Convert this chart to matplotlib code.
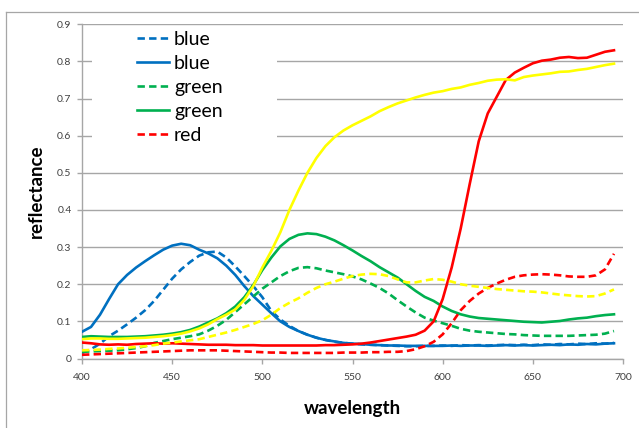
import matplotlib
matplotlib.use("Agg")
import matplotlib.pyplot as plt
from matplotlib.patches import Rectangle
from matplotlib.lines import Line2D

wavelength = list(range(400, 700, 5))

blue_dashed = [0.015, 0.025, 0.040, 0.060, 0.075, 0.092, 0.110, 0.130, 0.155, 0.185,
               0.215, 0.240, 0.260, 0.277, 0.286, 0.288, 0.272, 0.248, 0.222, 0.195,
               0.165, 0.128, 0.105, 0.088, 0.074, 0.064, 0.056, 0.050, 0.045, 0.042,
               0.040, 0.038, 0.037, 0.036, 0.035, 0.034, 0.033, 0.033, 0.034, 0.034,
               0.035, 0.034, 0.036, 0.035, 0.036, 0.035, 0.036, 0.037, 0.036, 0.037,
               0.036, 0.038, 0.037, 0.039, 0.038, 0.040, 0.039, 0.041, 0.040, 0.042]
blue_solid = [0.072, 0.085, 0.118, 0.160, 0.200, 0.225, 0.245, 0.262, 0.278, 0.293,
              0.304, 0.309, 0.305, 0.293, 0.283, 0.270, 0.250, 0.225, 0.195, 0.168,
              0.145, 0.122, 0.100, 0.085, 0.074, 0.064, 0.056, 0.050, 0.046, 0.042,
              0.040, 0.039, 0.037, 0.036, 0.035, 0.035, 0.034, 0.034, 0.034, 0.034,
              0.034, 0.035, 0.034, 0.035, 0.035, 0.034, 0.035, 0.036, 0.035, 0.036,
              0.035, 0.036, 0.037, 0.036, 0.038, 0.037, 0.039, 0.038, 0.040, 0.041]
green_dashed = [0.018, 0.019, 0.020, 0.021, 0.022, 0.025, 0.028, 0.033, 0.042, 0.047,
                0.052, 0.056, 0.060, 0.065, 0.075, 0.088, 0.104, 0.125, 0.146, 0.167,
                0.188, 0.205, 0.222, 0.235, 0.244, 0.246, 0.243, 0.237, 0.232, 0.227,
                0.221, 0.213, 0.202, 0.190, 0.175, 0.157, 0.140, 0.124, 0.110, 0.102,
                0.095, 0.088, 0.080, 0.075, 0.072, 0.070, 0.068, 0.066, 0.065, 0.063,
                0.062, 0.061, 0.061, 0.061, 0.061, 0.062, 0.063, 0.064, 0.067, 0.074]
green_solid = [0.058, 0.060, 0.059, 0.058, 0.058, 0.058, 0.059, 0.060, 0.062, 0.064,
               0.067, 0.071, 0.077, 0.086, 0.097, 0.108, 0.122, 0.140, 0.165, 0.198,
               0.238, 0.272, 0.302, 0.322, 0.333, 0.337, 0.335, 0.328, 0.318, 0.305,
               0.291, 0.276, 0.262, 0.246, 0.232, 0.218, 0.200, 0.182, 0.166, 0.155,
               0.140, 0.128, 0.119, 0.113, 0.109, 0.107, 0.105, 0.103, 0.101, 0.099,
               0.098, 0.097, 0.099, 0.101, 0.105, 0.108, 0.110, 0.114, 0.117, 0.119]
red_dashed = [0.010, 0.011, 0.012, 0.013, 0.014, 0.015, 0.016, 0.017, 0.018, 0.019,
              0.020, 0.021, 0.022, 0.022, 0.022, 0.022, 0.021, 0.020, 0.019, 0.018,
              0.017, 0.016, 0.016, 0.015, 0.015, 0.015, 0.015, 0.015, 0.015, 0.016,
              0.016, 0.016, 0.017, 0.017, 0.018, 0.018, 0.020, 0.025, 0.033, 0.045,
              0.065, 0.095, 0.130, 0.155, 0.175, 0.190, 0.202, 0.212, 0.220, 0.224,
              0.226, 0.227, 0.226, 0.224, 0.221, 0.220, 0.220, 0.224, 0.240, 0.282]
red_solid = [0.043, 0.041, 0.038, 0.037, 0.038, 0.037, 0.039, 0.040, 0.041, 0.040,
             0.041, 0.040, 0.039, 0.038, 0.037, 0.037, 0.037, 0.036, 0.036, 0.036,
             0.035, 0.035, 0.035, 0.035, 0.035, 0.035, 0.035, 0.036, 0.036, 0.037,
             0.038, 0.040, 0.043, 0.047, 0.051, 0.055, 0.059, 0.064, 0.075, 0.100,
             0.160, 0.245, 0.350, 0.470, 0.585, 0.660, 0.705, 0.750, 0.770, 0.783,
             0.795, 0.802, 0.805, 0.810, 0.812, 0.809, 0.810, 0.818, 0.826, 0.830]
yellow_dashed = [0.022, 0.023, 0.024, 0.026, 0.027, 0.029, 0.031, 0.033, 0.036, 0.040,
                 0.043, 0.046, 0.049, 0.052, 0.058, 0.064, 0.070, 0.077, 0.085, 0.093,
                 0.103, 0.118, 0.136, 0.150, 0.162, 0.177, 0.190, 0.200, 0.207, 0.215,
                 0.222, 0.226, 0.228, 0.227, 0.222, 0.213, 0.205, 0.205, 0.210, 0.214,
                 0.212, 0.207, 0.200, 0.196, 0.193, 0.190, 0.187, 0.185, 0.183, 0.181,
                 0.180, 0.178, 0.175, 0.172, 0.170, 0.168, 0.167, 0.168, 0.175, 0.186]
yellow_solid = [0.052, 0.054, 0.054, 0.053, 0.053, 0.054, 0.055, 0.056, 0.058, 0.060,
                0.063, 0.067, 0.073, 0.081, 0.092, 0.106, 0.118, 0.132, 0.158, 0.195,
                0.245, 0.290, 0.340, 0.400, 0.452, 0.500, 0.540, 0.572, 0.596, 0.614,
                0.628, 0.640, 0.652, 0.666, 0.677, 0.687, 0.695, 0.703, 0.710, 0.716,
                0.720, 0.726, 0.730, 0.737, 0.742, 0.748, 0.751, 0.752, 0.749, 0.758,
                0.762, 0.765, 0.768, 0.772, 0.773, 0.777, 0.780, 0.785, 0.790, 0.794]

legend_labels = ["blue", "blue", "green", "green", "red"]
x_ticks = [400, 450, 500, 550, 600, 650, 700]
y_ticks = [0, 0.1, 0.2, 0.3, 0.4, 0.5, 0.6, 0.7, 0.8, 0.9]
y_tick_labels = ["0", "0.1", "0.2", "0.3", "0.4", "0.5", "0.6", "0.7", "0.8", "0.9"]

BLUE = "#0070C0"
GREEN = "#00B050"
YELLOW = "#FFFF00"
RED = "#FF0000"
GRID = "#A6A6A6"

plt.rcParams['font.family'] = ['Lato', 'DejaVu Sans']

W, H = 639, 428
fig = plt.figure(figsize=(W / 100, H / 100), dpi=100)
ax = fig.add_axes([82 / W, 1 - 358.5 / H, (623 - 82) / W, (358.5 - 24.3) / H])

# outer chart border (partly cut by image edges)
fig.add_artist(Line2D([6 / W, 1.0], [1 - 12 / H, 1 - 12 / H], transform=fig.transFigure,
                      color="#A6A6A6", lw=0.9))
fig.add_artist(Line2D([6 / W, 6 / W], [0, 1 - 12 / H], transform=fig.transFigure,
                      color="#A6A6A6", lw=0.9))

lw = 1.9
dash = (2.8, 1.6)
series = [
    (blue_dashed, BLUE, True),
    (blue_solid, BLUE, False),
    (green_dashed, GREEN, True),
    (green_solid, GREEN, False),
    (red_dashed, RED, True),
    (red_solid, RED, False),
    (yellow_dashed, YELLOW, True),
    (yellow_solid, YELLOW, False),
]
handles = []
for vals, col, dashed in series:
    if dashed:
        ln, = ax.plot(wavelength, vals, color=col, lw=lw, dashes=dash, zorder=3,
                      solid_capstyle="butt", dash_capstyle="butt")
    else:
        ln, = ax.plot(wavelength, vals, color=col, lw=lw, zorder=3,
                      solid_joinstyle="round")
    handles.append(ln)

ax.set_xlim(400, 700)
ax.set_ylim(0, 0.9)
ax.set_xticks(x_ticks)
ax.set_yticks(y_ticks)
ax.set_yticklabels(y_tick_labels)
ax.set_axisbelow(True)
ax.yaxis.grid(True, color=GRID, lw=1.0)
for s in ["top", "right"]:
    ax.spines[s].set_visible(False)
for s in ["left", "bottom"]:
    ax.spines[s].set_color(GRID)
    ax.spines[s].set_linewidth(1.0)
ax.tick_params(axis="both", colors=GRID, labelcolor="#404040", labelsize=7.5,
               length=3.5, width=1.0, direction="out")
ax.tick_params(axis="y", pad=4)
ax.tick_params(axis="x", pad=7)

ax.set_xlabel("wavelength", fontsize=13.5, fontweight="bold", labelpad=13)
ax.set_ylabel("reflectance", fontsize=13.5, fontweight="bold", labelpad=9)

# white legend background box covering gridlines
x0 = (92 - 82) / 541
x1 = (277 - 82) / 541
y0 = (358.5 - 168) / 334.2
y1 = (358.5 - 26) / 334.2
ax.add_patch(Rectangle((x0, y0), x1 - x0, y1 - y0, transform=ax.transAxes,
                       facecolor="white", edgecolor="none", zorder=1))

leg = ax.legend(handles[:5], legend_labels, loc="upper left",
                bbox_to_anchor=((137 - 82) / 541, (358.5 - 31) / 334.2),
                frameon=False, fontsize=14, handlelength=1.65, handletextpad=0.25,
                labelspacing=0.36, borderpad=0, borderaxespad=0)

fig.savefig("out.png", dpi=100)
